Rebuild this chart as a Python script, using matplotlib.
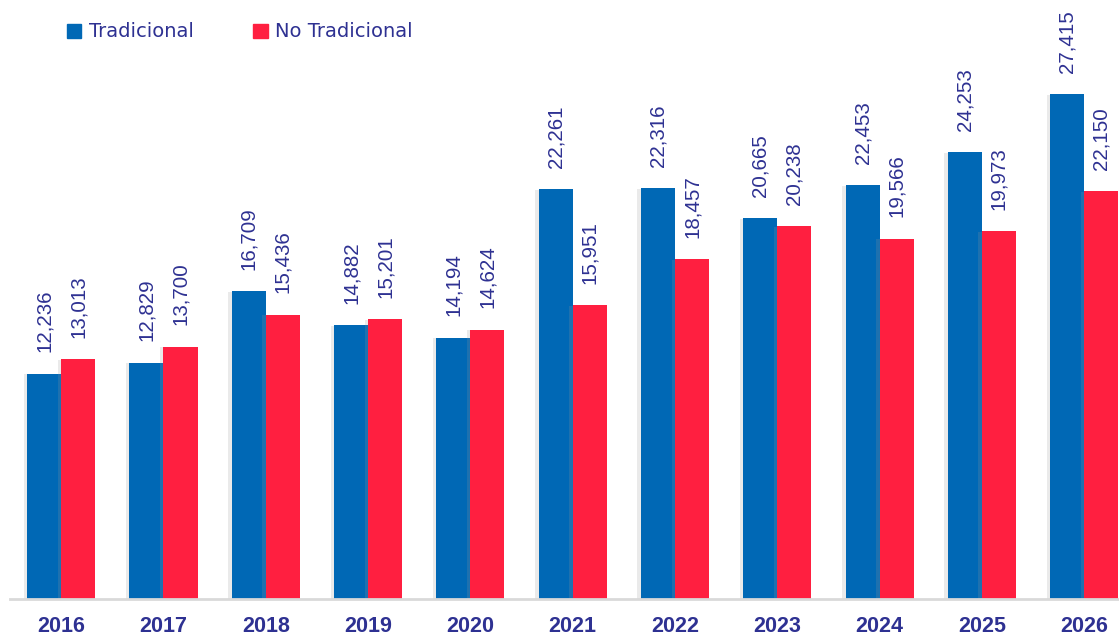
import numpy as np
import matplotlib.pyplot as plt
import matplotlib.patheffects as pe
from matplotlib.patches import Patch

years = ["2016", "2017", "2018", "2019", "2020", "2021", "2022", "2023", "2024", "2025", "2026"]
tradicional = [12236, 12829, 16709, 14882, 14194, 22261, 22316, 20665, 22453, 24253, 27415]
no_tradicional = [13013, 13700, 15436, 15201, 14624, 15951, 18457, 20238, 19566, 19973, 22150]

blue = "#0068B5"
red = "#FF1F40"
txt = "#2E3192"

fig = plt.figure(figsize=(11.19, 6.38), dpi=100)
ax = fig.add_axes([10 / 1119, 39 / 638, 1 - 10 / 1119, 599 / 638])

x = np.arange(len(years))
w = 0.333
shadow = [pe.SimplePatchShadow(offset=(-2.5, -0.5), shadow_rgbFace="#999999", alpha=0.2), pe.Normal()]
b1 = ax.bar(x - w / 2, tradicional, w, color=blue, path_effects=shadow, zorder=2)
b2 = ax.bar(x + w / 2, no_tradicional, w, color=red, path_effects=shadow, zorder=2)

for bars in (b1, b2):
    for r in bars:
        h = r.get_height()
        ax.text(r.get_x() + r.get_width() / 2, h + 1150, f"{h:,.0f}",
                rotation=90, ha="center", va="bottom", fontsize=14.8,
                color=txt, family="Liberation Sans")

ax.set_xlim(-0.5, 10.34)
ax.set_ylim(0, 599 / (505 / 27415))
ax.set_xticks(x)
ax.set_xticklabels(years, fontsize=15.5, fontweight="bold", color=txt, family="Liberation Sans")
ax.tick_params(axis="x", length=0, pad=12)
ax.set_yticks([])
for s in ["top", "right", "left"]:
    ax.spines[s].set_visible(False)
ax.spines["bottom"].set_color("#D9D9D9")
ax.spines["bottom"].set_linewidth(2)

handles = [Patch(color=blue, label="Tradicional"), Patch(color=red, label="No Tradicional")]
leg = fig.legend(handles=handles, loc="upper left", bbox_to_anchor=(49 / 1119, 1 - 5 / 638),
                 ncol=2, frameon=False, fontsize=14, handlelength=0.75, handleheight=0.75,
                 handletextpad=0.4, columnspacing=3.05)
for t in leg.get_texts():
    t.set_color(txt)

fig.savefig("out.png", dpi=100)
